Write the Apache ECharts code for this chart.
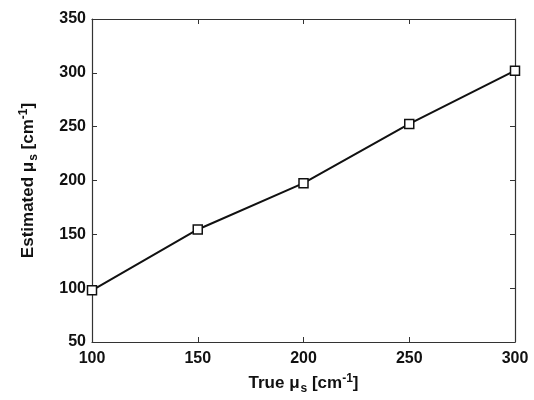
<!DOCTYPE html>
<html>
<head>
<meta charset="utf-8">
<script src="https://cdn.jsdelivr.net/npm/echarts@6/dist/echarts.min.js"></script>
<style>
  html, body { margin: 0; padding: 0; background: #fff; }
  #chart { width: 534px; height: 400px; }
</style>
</head>
<body>
<div id="chart"></div>
<script>
const trueMus = [100, 150, 200, 250, 300];
const estimatedMus = [98, 154.5, 197.5, 252.5, 302];

const FONT = "'Liberation Sans', Arial, sans-serif";
const AXIS_COLOR = '#333';

const nameRich = {
  a: { fontFamily: FONT, fontSize: 17, fontWeight: 'bold', color: '#111' },
  sub: { fontFamily: FONT, fontSize: 12, fontWeight: 'bold', color: '#111', padding: [11, 0, 0, 1] },
  sup: { fontFamily: FONT, fontSize: 12, fontWeight: 'bold', color: '#111', padding: [0, 0, 10, 0] }
};

function baseAxis(min, max) {
  return {
    type: 'value', min: min, max: max, interval: 50,
    axisLine: { show: true, lineStyle: { color: AXIS_COLOR, width: 1.2 } },
    axisTick: { show: true, inside: true, length: 5, lineStyle: { color: AXIS_COLOR, width: 1 } },
    splitLine: { show: false }
  };
}

const chart = echarts.init(document.getElementById('chart'));

chart.setOption({
  animation: false,
  backgroundColor: '#fff',
  grid: { left: 92, right: 19, top: 19, bottom: 58, outerBoundsMode: 'none' },
  xAxis: [
    Object.assign(baseAxis(100, 300), {
      position: 'bottom',
      axisLabel: { color: '#111', fontFamily: FONT, fontSize: 16, fontWeight: 'bold', margin: 9 },
      name: '{a|True μ}{sub|s}{a| [cm}{sup|-1}{a|]}',
      nameLocation: 'middle', nameGap: 30,
      nameTextStyle: { rich: nameRich }
    }),
    Object.assign(baseAxis(100, 300), {
      position: 'top',
      axisLabel: { show: false }
    })
  ],
  yAxis: [
    Object.assign(baseAxis(50, 350), {
      position: 'left',
      axisLabel: { color: '#111', fontFamily: FONT, fontSize: 16, fontWeight: 'bold', margin: 6 },
      name: '{a|Estimated μ}{sub|s}{a| [cm}{sup|-1}{a|]}',
      nameLocation: 'middle', nameGap: 52, nameRotate: 90,
      nameTextStyle: { rich: nameRich }
    }),
    Object.assign(baseAxis(50, 350), {
      position: 'right',
      axisLabel: { show: false }
    })
  ],
  series: [{
    type: 'line',
    xAxisIndex: 0,
    yAxisIndex: 0,
    data: trueMus.map((x, i) => [x, estimatedMus[i]]),
    lineStyle: { color: '#111', width: 2 },
    symbol: 'rect',
    symbolSize: 9,
    showAllSymbol: true,
    itemStyle: { color: '#fff', borderColor: '#111', borderWidth: 1.5 },
    clip: false
  }]
});
</script>
</body>
</html>
